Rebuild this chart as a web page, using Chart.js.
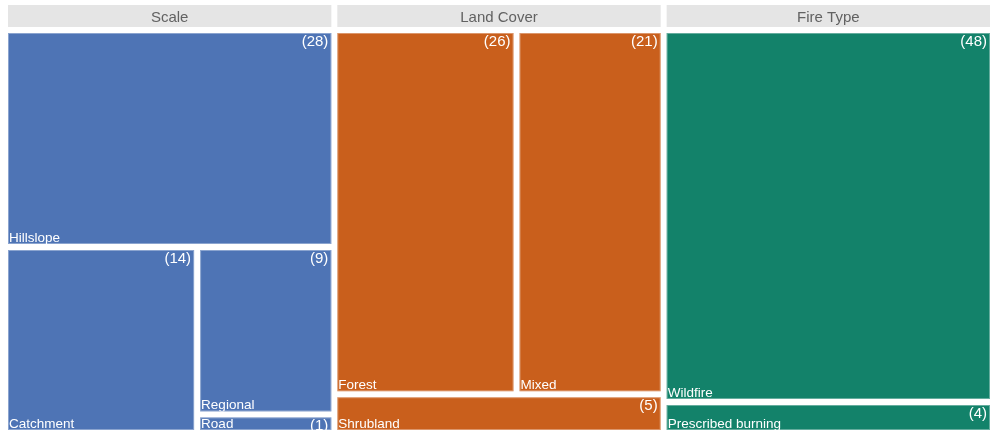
<!DOCTYPE html>
<html>
<head>
<meta charset="utf-8">
<script src="https://cdn.jsdelivr.net/npm/chart.js@4.4.1/dist/chart.umd.min.js"></script>
<style>
    html, body { margin: 0; padding: 0; background: #ffffff; overflow: hidden; }
    #treemap { display: block; }
</style>
</head>
<body>
<canvas id="treemap" width="996" height="437"></canvas>
<script>
// Facets and their categories / counts
const panels = ['Scale', 'Land Cover', 'Fire Type'];
const scaleLabels = ['Hillslope', 'Catchment', 'Regional', 'Road'];
const scaleCounts = [28, 14, 9, 1];
const landLabels = ['Forest', 'Mixed', 'Shrubland'];
const landCounts = [26, 21, 5];
const fireLabels = ['Wildfire', 'Prescribed burning'];
const fireCounts = [48, 4];

const panelColors = ['#4e74b5', '#c95f1c', '#13826a'];

// worst aspect ratio of a row laid along a side of given length
function worst(row, side) {
    const s = row.reduce((a, b) => a + b, 0);
    const thick = s / side;
    return Math.max(...row.map(a => {
        const len = a / thick;
        return Math.max(len / thick, thick / len);
    }));
}

// squarified layout in a unit square (data units, like the original plot)
function squarify(labels, counts) {
    const total = counts.reduce((a, b) => a + b, 0);
    const items = labels.map((l, i) => ({ label: l, count: counts[i], area: counts[i] / total }))
        .sort((a, b) => b.count - a.count);
    const out = [];
    let x = 0, y = 0, w = 1, h = 1;
    let i = 0;
    while (i < items.length) {
        const alongWidth = w <= h;
        const side = alongWidth ? w : h;
        let row = [items[i].area];
        let j = i + 1;
        while (j < items.length) {
            const cand = row.concat(items[j].area);
            // small tolerance so near-ties keep the row together
            if (worst(cand, side) <= worst(row, side) + 0.05) {
                row = cand;
                j++;
            } else break;
        }
        const s = row.reduce((a, b) => a + b, 0);
        const thick = s / side;
        let pos = 0;
        for (let k = i; k < j; k++) {
            const len = items[k].area / thick;
            if (alongWidth) {
                out.push({ ...items[k], x: x + pos, y: y, w: len, h: thick });
            } else {
                out.push({ ...items[k], x: x, y: y + pos, w: thick, h: len });
            }
            pos += len;
        }
        if (alongWidth) { y += thick; h -= thick; } else { x += thick; w -= thick; }
        i = j;
    }
    return out;
}

const layouts = [
    squarify(scaleLabels, scaleCounts),
    squarify(landLabels, landCounts),
    squarify(fireLabels, fireCounts)
];

const gap = 3;

const treemapPlugin = {
    id: 'treemapPlugin',
    afterDatasetsDraw(chart) {
        const ctx = chart.ctx;
        const xs = chart.scales.x;
        const ys = chart.scales.y;
        const area = chart.chartArea;

        panels.forEach((name, p) => {
            // facet strip
            const sl = xs.getPixelForValue(p) + gap;
            const sr = xs.getPixelForValue(p + 1) - gap;
            const st = area.top - 25;
            ctx.save();
            ctx.fillStyle = '#e5e5e5';
            ctx.fillRect(sl, st, sr - sl, 22);
            ctx.fillStyle = '#626262';
            ctx.font = '15px "Liberation Sans", Arial, sans-serif';
            ctx.textAlign = 'center';
            ctx.textBaseline = 'alphabetic';
            ctx.fillText(name, (sl + sr) / 2, st + 16.5);
            ctx.restore();

            layouts[p].forEach(r => {
                const left = xs.getPixelForValue(p + r.x) + gap;
                const right = xs.getPixelForValue(p + r.x + r.w) - gap;
                const top = ys.getPixelForValue(r.y) + gap;
                const bottom = ys.getPixelForValue(r.y + r.h) - gap;
                ctx.save();
                ctx.fillStyle = panelColors[p];
                ctx.fillRect(left, top, right - left, bottom - top);
                ctx.strokeStyle = 'rgba(255,255,255,0.35)';
                ctx.lineWidth = 1;
                ctx.strokeRect(left + 0.5, top + 0.5, right - left - 1, bottom - top - 1);

                ctx.beginPath();
                ctx.rect(left, top, right - left, bottom - top);
                ctx.clip();
                ctx.fillStyle = '#ffffff';
                ctx.textBaseline = 'alphabetic';
                ctx.font = '13.5px "Liberation Sans", Arial, sans-serif';
                ctx.textAlign = 'left';
                ctx.fillText(r.label, left + 1, bottom - 2);
                ctx.font = '15px "Liberation Sans", Arial, sans-serif';
                ctx.textAlign = 'right';
                ctx.fillText('(' + r.count + ')', right - 3, top + 13);
                ctx.restore();
            });
        });
    }
};

document.addEventListener('DOMContentLoaded', function() {
    const ctx = document.getElementById('treemap').getContext('2d');
    new Chart(ctx, {
        type: 'scatter',
        data: { datasets: [] },
        options: {
            responsive: false,
            animation: false,
            devicePixelRatio: 1,
            layout: { padding: { left: 5, right: 3, top: 30, bottom: 4 } },
            scales: {
                x: { type: 'linear', min: 0, max: panels.length, display: false },
                y: { type: 'linear', min: 0, max: 1, reverse: true, display: false }
            },
            plugins: {
                legend: { display: false },
                tooltip: { enabled: false }
            }
        },
        plugins: [treemapPlugin]
    });
});
</script>
</body>
</html>
